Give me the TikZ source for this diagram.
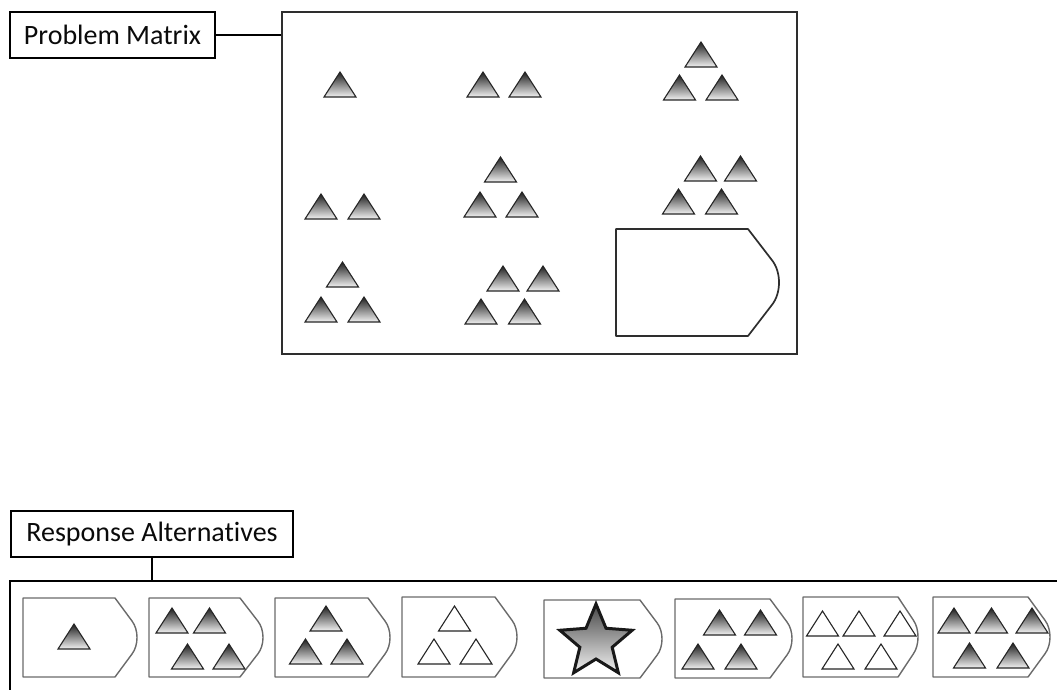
\documentclass[tikz,border=0pt]{standalone}
\usepackage{fontspec}
\setmainfont{Carlito}[Ligatures=NoCommon]
\usetikzlibrary{calc}
\definecolor{ink}{HTML}{0A0A0A}
\definecolor{framegray}{HTML}{2E2E2E}
\definecolor{plategray}{HTML}{6A6A6A}

% answer plate: rectangle with a rounded arrow nose
% #1 style, #2 left x, #3 top y, #4 nose start x, #5 tip x, #6 bottom y
\newcommand\answerplate[6]{%
  \draw[#1] (#2,#3) -- (#4,#3)
    -- ({#4+0.77*(#5-#4)},{#3+0.29*(#6-#3)})
    .. controls ({#5+0.077*(#5-#4)},{#3+0.40*(#6-#3)}) and ({#5+0.077*(#5-#4)},{#3+0.60*(#6-#3)})
    .. ({#4+0.77*(#5-#4)},{#3+0.71*(#6-#3)})
    -- (#4,#6) -- (#2,#6) -- cycle;}

\tikzset{
  labelbox/.style={draw=black, line width=1.7, fill=white, inner sep=0pt,
    font=\fontsize{28}{32}\selectfont, text=ink},
  outerframe/.style={draw=framegray, line width=2},
  respframe/.style={draw=black, line width=1.7},
  link/.style={draw=black, line width=1.7},
  holeplate/.style={draw=framegray, line width=1.7, fill=white, line join=round},
  cardplate/.style={draw=plategray, line width=1.4, fill=white, line join=round},
  darktri/.style={draw=black!85, line width=1.1, top color=black!88, bottom color=black!5},
  whitetri/.style={draw=black!85, line width=1.1, fill=white},
  dtri/.pic={\path[darktri] (-16,0) -- (0,-25) -- (16,0) -- cycle;},
  wtri/.pic={\path[whitetri] (-16,0) -- (0,-25) -- (16,0) -- cycle;},
  starshape/.style={draw=black!90, line width=3, line join=miter, top color=black!72, bottom color=black!5},
}

\begin{document}
\begin{tikzpicture}[x=1pt, y=-1pt]
\useasboundingbox (0,0) rectangle (1057,689);

% ---------- problem matrix ----------
\node[outerframe, minimum width=515, minimum height=342, inner sep=0pt] (pmframe) at (539.5,183) {};
\node[labelbox, minimum width=205, minimum height=46] (pmlabel) at (112.5,35) {Problem Matrix};
\draw[link] (pmlabel.east) -- (pmlabel.east -| pmframe.west);

% row 1
\foreach \x/\y in {340/97, 483/97, 525/97, 701/67, 679.5/100, 722/100}
  \pic at (\x,\y) {dtri};
% row 2
\foreach \x/\y in {321/219, 364/219, 500.5/182, 480/217, 522/217,
                   700.5/181, 740.5/181, 678.5/214, 721.5/214}
  \pic at (\x,\y) {dtri};
% row 3
\foreach \x/\y in {342.5/287, 321/322, 364/322, 503/291, 543/291, 481/324, 524.5/324}
  \pic at (\x,\y) {dtri};
% empty cell
\answerplate{holeplate}{616}{229}{748}{779}{336}

% ---------- response alternatives ----------
\node[labelbox, minimum width=282, minimum height=46] (ralabel) at (152,534) {Response Alternatives};
\begin{scope}
  \clip (0,0) rectangle (1057,689);
  \node[respframe, minimum width=1200, minimum height=300, inner sep=0pt] (rframe) at (610,731) {};
\end{scope}
\draw[link] (ralabel.south) -- (ralabel.south |- rframe.north);

% the eight cards
\answerplate{cardplate}{23}{598}{115}{137}{677}
\answerplate{cardplate}{149}{598}{240}{263}{677}
\answerplate{cardplate}{275}{598}{368}{390}{677}
\answerplate{cardplate}{402}{597}{495}{517}{677}
\answerplate{cardplate}{544}{600}{640}{662}{678}
\answerplate{cardplate}{675}{599}{770}{792}{678}
\answerplate{cardplate}{803}{597}{898}{918}{677}
\answerplate{cardplate}{933}{597}{1028}{1050}{677}

% card contents
\pic at (74,649) {dtri};
\foreach \x/\y in {172/633, 209.5/633, 187.5/669, 229/669} \pic at (\x,\y) {dtri};
\foreach \x/\y in {326/631, 305.5/664, 347/664} \pic at (\x,\y) {dtri};
\foreach \x/\y in {454.5/631, 434/664, 476/664} \pic at (\x,\y) {wtri};
\draw[starshape] ([shift={(-90:38)}]596,642)
  \foreach \k in {0,...,3} { -- ([shift={(-54+72*\k:17)}]596,642) -- ([shift={(-18+72*\k:38)}]596,642) }
  -- ([shift={(234:17)}]596,642) -- cycle;
\foreach \x/\y in {719.5/635, 760.5/635, 698/669, 741/669} \pic at (\x,\y) {dtri};
\foreach \x/\y in {822.5/636, 859/636, 900/636, 838/669, 881/669} \pic at (\x,\y) {wtri};
\foreach \x/\y in {954/633, 991.5/633, 1032/633, 969.5/668, 1013/668} \pic at (\x,\y) {dtri};
\end{tikzpicture}
\end{document}
